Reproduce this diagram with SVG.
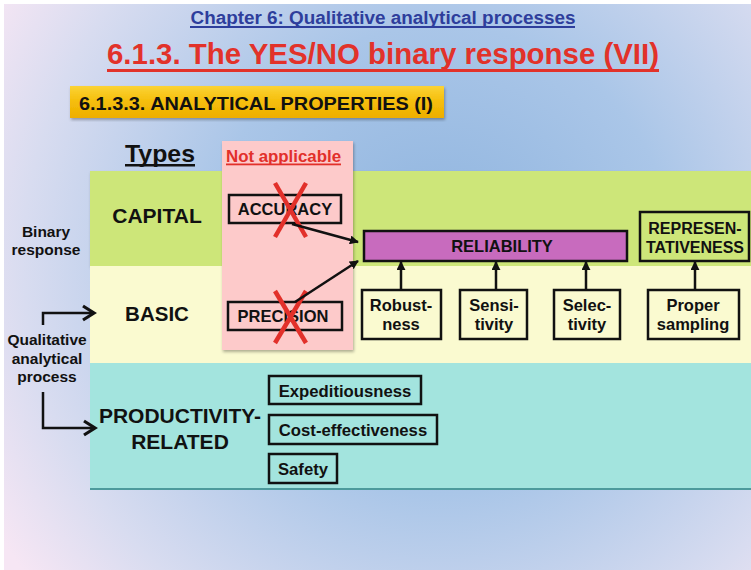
<svg xmlns="http://www.w3.org/2000/svg" width="751" height="570" viewBox="0 0 751 570">
<defs>
<radialGradient id="bg" cx="440" cy="260" r="520" gradientUnits="userSpaceOnUse">
<stop offset="0" stop-color="#8db3de"/>
<stop offset="0.45" stop-color="#aac6e8"/>
<stop offset="0.8" stop-color="#d8dcf0"/>
<stop offset="1" stop-color="#f6e6f4"/>
</radialGradient>
<linearGradient id="gold" x1="0" y1="0" x2="0" y2="1">
<stop offset="0" stop-color="#fbd335"/>
<stop offset="0.5" stop-color="#f5bd0a"/>
<stop offset="1" stop-color="#eeae00"/>
</linearGradient>
<filter id="sh" x="-5%" y="-5%" width="110%" height="115%">
<feDropShadow dx="1" dy="2" stdDeviation="1.5" flood-color="#000" flood-opacity="0.3"/>
</filter>
<marker id="chev" viewBox="-8 -4 18 18" refX="6" refY="5" markerWidth="18" markerHeight="18" markerUnits="userSpaceOnUse" orient="auto" overflow="visible">
<polyline points="-5,-2 6,5 -5,12" fill="none" stroke="#111" stroke-width="3.2"/>
</marker>
<marker id="tri" viewBox="0 0 10 10" refX="9" refY="5" markerWidth="9" markerHeight="9" markerUnits="userSpaceOnUse" orient="auto">
<path d="M0,0 L10,5 L0,10 z" fill="#111"/>
</marker>
<style>
.t{font-family:"Liberation Sans",Arial,sans-serif;font-weight:bold;fill:#111;text-anchor:middle}
.n{font-family:"Liberation Sans Narrow","Liberation Sans",Arial,sans-serif;font-weight:bold;text-anchor:middle}
.box{stroke:#111;stroke-width:2.5}
.ln{stroke:#111;stroke-width:2.5;fill:none}
.x{stroke:#e2302a;stroke-width:4.5}
</style>
</defs>
<rect x="0" y="0" width="751" height="570" fill="#ffffff"/>
<rect x="4" y="4" width="747" height="566" fill="url(#bg)"/>

<g id="header">
<text class="n" x="383" y="24" font-size="18" fill="#2e3e9c" textLength="385" lengthAdjust="spacingAndGlyphs">Chapter 6: Qualitative analytical processes</text>
<rect x="190" y="26" width="385" height="2" fill="#2e3e9c"/>
<text class="n" x="383" y="64" font-size="30" fill="#e2322a" textLength="552" lengthAdjust="spacingAndGlyphs">6.1.3. The YES/NO binary response (VII)</text>
<rect x="107" y="69" width="552" height="3" fill="#e2322a"/>
</g>

<g id="subtitle">
<rect x="70" y="86" width="374" height="32" fill="url(#gold)" filter="url(#sh)"/>
<text class="n" x="256" y="110" font-size="19" fill="#111" textLength="354" lengthAdjust="spacingAndGlyphs">6.1.3.3. ANALYTICAL PROPERTIES (I)</text>
</g>

<g id="types">
<text class="t" x="160" y="162" font-size="24" textLength="70" lengthAdjust="spacingAndGlyphs">Types</text>
<rect x="125" y="164" width="70" height="2.5" fill="#111"/>
</g>

<g id="bands">
<rect x="90" y="171" width="661" height="95" fill="#cde679" filter="url(#sh)"/>
<rect x="90" y="266" width="661" height="97" fill="#fafad0"/>
<rect x="90" y="363" width="661" height="126" fill="#a3e4de"/>
<rect x="90" y="488" width="661" height="2" fill="#4d9a9c"/>
</g>

<g id="capital"><text class="t" x="157" y="223" font-size="21">CAPITAL</text></g>
<g id="basic"><text class="t" x="157" y="321" font-size="20.5">BASIC</text></g>
<g id="productivity"><text class="t" x="180" y="423" font-size="21">PRODUCTIVITY-</text><text class="t" x="180" y="449" font-size="21">RELATED</text></g>

<g id="binary"><text class="t" x="46" y="237" font-size="15.5">Binary</text><text class="t" x="46" y="255" font-size="15.5">response</text></g>
<g id="qualitative"><text class="t" x="47" y="345" font-size="15.5">Qualitative</text><text class="t" x="47" y="364" font-size="15.5">analytical</text><text class="t" x="47" y="382" font-size="15.5">process</text></g>

<g id="not-applicable">
<rect x="222" y="141" width="131" height="209" fill="#fdcaca" filter="url(#sh)"/>
<text x="283.5" y="162" font-family="Liberation Sans,Arial,sans-serif" font-weight="bold" font-size="16" fill="#e2302a" text-anchor="middle" textLength="115" lengthAdjust="spacingAndGlyphs">Not applicable</text>
<rect x="226" y="163.5" width="115" height="1.8" fill="#e2302a"/>
</g>

<g id="accuracy">
<rect class="box" x="229" y="195" width="112" height="28" fill="#fdcaca"/>
<text class="t" x="285" y="215" font-size="16.5">ACCURACY</text>
<line class="x" x1="275" y1="183" x2="306" y2="237"/><line class="x" x1="306" y1="183" x2="275" y2="237"/>
</g>
<g id="precision">
<rect class="box" x="228" y="302" width="114" height="28" fill="#fdcaca"/>
<text class="t" x="283" y="322" font-size="16.5">PRECISION</text>
<line class="x" x1="275" y1="291" x2="306" y2="343"/><line class="x" x1="306" y1="291" x2="275" y2="343"/>
</g>

<g id="reliability">
<rect class="box" x="364" y="231" width="263" height="30" fill="#c86bbe"/>
<text class="t" x="502" y="252" font-size="16.5">RELIABILITY</text>
</g>
<g id="representativeness">
<rect class="box" x="640" y="212" width="109" height="49" fill="#cde679"/>
<text class="t" x="695" y="234" font-size="16">REPRESEN-</text>
<text class="t" x="695" y="253" font-size="16">TATIVENESS</text>
</g>
<g id="robustness"><rect class="box" x="362" y="290" width="79" height="49" fill="#fafad0"/><text class="t" x="401" y="311" font-size="16.5">Robust-</text><text class="t" x="401" y="330" font-size="16.5">ness</text></g>
<g id="sensitivity"><rect class="box" x="460" y="290" width="67" height="49" fill="#fafad0"/><text class="t" x="494" y="311" font-size="16.5">Sensi-</text><text class="t" x="494" y="330" font-size="16.5">tivity</text></g>
<g id="selectivity"><rect class="box" x="554" y="290" width="66" height="49" fill="#fafad0"/><text class="t" x="587" y="311" font-size="16.5">Selec-</text><text class="t" x="587" y="330" font-size="16.5">tivity</text></g>
<g id="proper-sampling"><rect class="box" x="648" y="290" width="91" height="49" fill="#fafad0"/><text class="t" x="693" y="311" font-size="16.5">Proper</text><text class="t" x="693" y="330" font-size="16.5">sampling</text></g>

<g id="expeditiousness"><rect class="box" x="269" y="376" width="152" height="28" fill="#a3e4de"/><text class="t" x="345" y="397" font-size="16.7">Expeditiousness</text></g>
<g id="cost-effectiveness"><rect class="box" x="269" y="415" width="168" height="29" fill="#a3e4de"/><text class="t" x="353" y="436" font-size="16.7">Cost-effectiveness</text></g>
<g id="safety"><rect class="box" x="269" y="454" width="68" height="29" fill="#a3e4de"/><text class="t" x="303" y="475" font-size="16.7">Safety</text></g>

<g id="connectors">
<polyline class="ln" stroke-width="3" points="43,325 43,313 94,313" marker-end="url(#chev)"/>
<polyline class="ln" stroke-width="3" points="43,392 43,428 95,428" marker-end="url(#chev)"/>
<line class="ln" stroke-width="2" x1="292" y1="224" x2="358" y2="242" marker-end="url(#tri)"/>
<line class="ln" stroke-width="2" x1="295" y1="302" x2="358" y2="261" marker-end="url(#tri)"/>
<line class="ln" stroke-width="2" x1="401" y1="290" x2="401" y2="262" marker-end="url(#tri)"/>
<line class="ln" stroke-width="2" x1="496" y1="290" x2="496" y2="262" marker-end="url(#tri)"/>
<line class="ln" stroke-width="2" x1="586" y1="290" x2="586" y2="262" marker-end="url(#tri)"/>
<line class="ln" stroke-width="2" x1="695" y1="290" x2="695" y2="262" marker-end="url(#tri)"/>
</g>
</svg>
